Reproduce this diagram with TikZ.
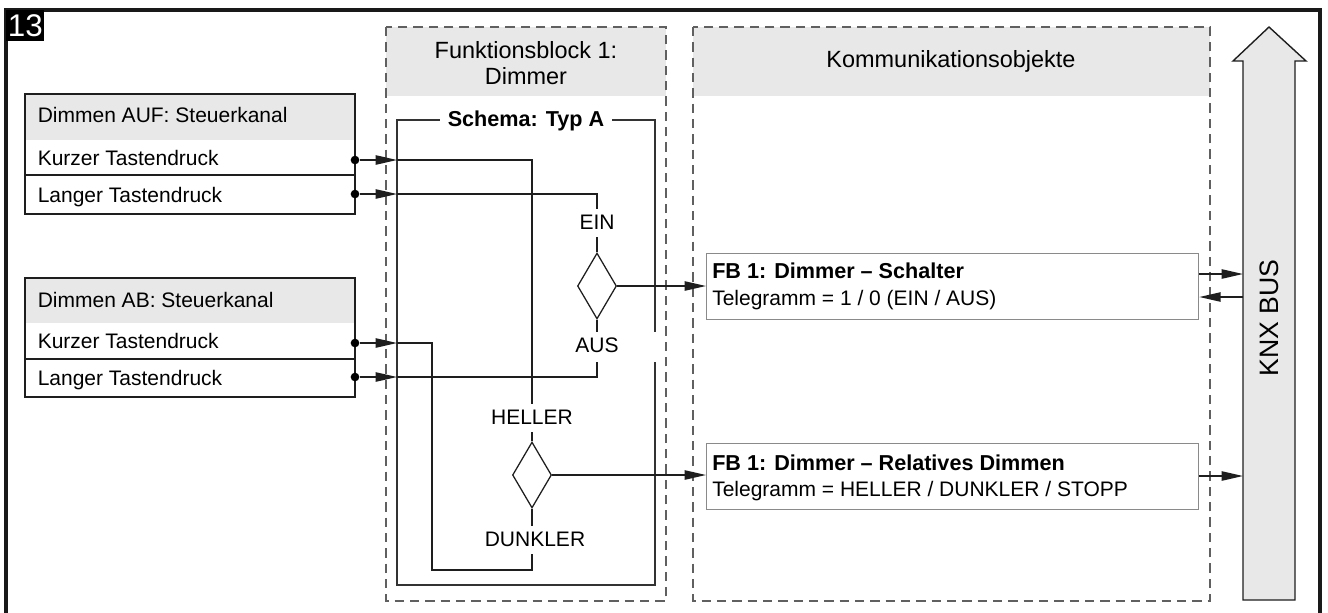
\documentclass[tikz,border=0pt]{standalone}
\usepackage{fontspec}
\setmainfont{Liberation Sans}
\usetikzlibrary{shapes.geometric,arrows.meta,fit}
\definecolor{hdrgray}{HTML}{E8E8E8}
\definecolor{dashgray}{HTML}{606060}
\definecolor{linegray}{HTML}{1E1E1E}
\definecolor{boxgray}{HTML}{8A8A8A}
\begin{document}
\begin{tikzpicture}[x=0.75pt,y=-0.75pt,
  font=\fontsize{15.75}{18}\selectfont,
  conn/.style={draw=linegray, line width=1.05pt},
  arr/.style={conn, -{Triangle[length=16pt,width=7pt]}},
  dashbox/.style={draw=dashgray, line width=1.3pt, dash pattern=on 7pt off 4.5pt},
  dimbox/.style={draw=linegray, line width=0.95pt},
  txt/.style={inner sep=0pt, anchor=base west},
  dot/.style={circle, fill=black, inner sep=0pt, minimum size=6.5pt},
  lbl/.style={fill=white, inner sep=0pt, minimum height=21pt, text depth=0pt},
  dia/.style={diamond, draw=linegray, line width=0.95pt, inner sep=0pt, minimum width=29.25pt, minimum height=49.5pt},
  commbox/.style={draw=boxgray, line width=1pt, fill=white, inner sep=0pt, anchor=north west, minimum width=369pt, minimum height=49.5pt},
  hdrfont/.style={font=\fontsize{17.6}{19.5}\selectfont},
  boldfont/.style={font=\fontsize{16.2}{18}\selectfont\bfseries},
]
\useasboundingbox (0,0) rectangle (1328,612);

% outer frame
\draw[line width=2.4pt, black!90] (6,10) rectangle (1320,625);
\node[fill=black, text=white, anchor=north west, minimum width=28.5pt, minimum height=23.25pt, inner sep=0pt, font=\fontsize{23.5}{23.5}\selectfont] (badge) at (6,10) {13};

% Funktionsblock (dashed)
\fill[hdrgray] (386,27) rectangle (666,96);
\draw[dashbox] (386,27) rectangle (666,601);
\node[hdrfont, align=center] (fbh) at (526,63) {Funktionsblock 1:\\Dimmer};

% Kommunikationsobjekte (dashed)
\fill[hdrgray] (693,27) rectangle (1210,96);
\draw[dashbox] (693,27) rectangle (1210,601);
\node[hdrfont] (koh) at (951,61) {Kommunikationsobjekte};

% Dimmen AUF
\fill[hdrgray] (25,94) rectangle (355,140);
\draw[dimbox] (25,94) rectangle (355,214);
\draw[dimbox] (25,175) -- (355,175);
\node[txt] (aufh) at (37.5,122) {Dimmen AUF: Steuerkanal};
\node[txt] (aufk) at (37.5,165) {Kurzer Tastendruck};
\node[txt] (aufl) at (37.5,202) {Langer Tastendruck};

% Dimmen AB
\fill[hdrgray] (25,278) rectangle (355,323);
\draw[dimbox] (25,278) rectangle (355,397);
\draw[dimbox] (25,359) -- (355,359);
\node[txt] (abh) at (37.5,307) {Dimmen AB: Steuerkanal};
\node[txt] (abk) at (37.5,348) {Kurzer Tastendruck};
\node[txt] (abl) at (37.5,385) {Langer Tastendruck};

% dots
\node[dot] (d1) at (355,160) {};
\node[dot] (d2) at (355,194) {};
\node[dot] (d3) at (355,343) {};
\node[dot] (d4) at (355,377) {};

% Schema box
\draw[draw=black!80, line width=0.95pt] (397,120) rectangle (655,585);
\node[fill=white, inner xsep=6pt, inner ysep=0pt, anchor=base, boldfont] (schema) at (526,126) {Schema: Typ A};

% entry points
\coordinate (e1) at (397,160);
\coordinate (e2) at (397,194);
\coordinate (e3) at (397,343);
\coordinate (e4) at (397,377);

% diamonds
\node[dia] (dia1) at (597,286) {};
\node[dia] (dia2) at (532,475) {};

% comm boxes
\node[commbox] (cb1) at (706,253) {};
\node[commbox] (cb2) at (706,443) {};
\node[txt, boldfont] (cb1t) at (712,278) {FB 1: Dimmer – Schalter};
\node[txt] (cb1s) at (712,305) {Telegramm = 1 / 0 (EIN / AUS)};
\node[txt, boldfont] (cb2t) at (712,470) {FB 1: Dimmer – Relatives Dimmen};
\node[txt] (cb2s) at (712,496) {Telegramm = HELLER / DUNKLER / STOPP};

% inputs arrows
\draw[arr] (d1) -- (e1);
\draw[arr] (d2) -- (e2);
\draw[arr] (d3) -- (e3);
\draw[arr] (d4) -- (e4);

% internal wiring
\draw[conn] (e1) -| (dia2.north);
\draw[conn] (e2) -| (dia1.north);
\draw[conn] (e4) -| (dia1.south);
\draw[conn] (e3) -- (432,343) -- (432,570) -| (dia2.south);

% outputs
\draw[arr] (dia1.east) -- (dia1.east -| cb1.west);
\draw[arr] (dia2.east) -- (dia2.east -| cb2.west);

% labels
\node[lbl, minimum width=73.5pt] (ein) at (597,222.5) {EIN};
\fill[white] (543,332) rectangle (660,362);
\node[lbl] (aus) at (597,345.5) {AUS};
\node[lbl, minimum width=92pt] (hel) at (532,417.5) {HELLER};
\node[lbl, minimum width=88pt] (dun) at (535,539.5) {DUNKLER};

% KNX bus arrow
\draw[fill=hdrgray, draw=linegray, line width=1.05pt] (1243,600) -- (1243,61) -- (1233,61) -- (1269,27) -- (1306,61) -- (1295,61) -- (1295,600) -- cycle;
\node[rotate=90, font=\fontsize{20}{20}\selectfont] (knx) at (1269,318) {KNX BUS};
\coordinate (b1) at (1243,274);
\coordinate (b2) at (1243,297);
\coordinate (b3) at (1243,476);
\draw[arr] (cb1.east |- b1) -- (b1);
\draw[arr] (b2) -- (cb1.east |- b2);
\draw[arr] (cb2.east |- b3) -- (b3);
\end{tikzpicture}
\end{document}
